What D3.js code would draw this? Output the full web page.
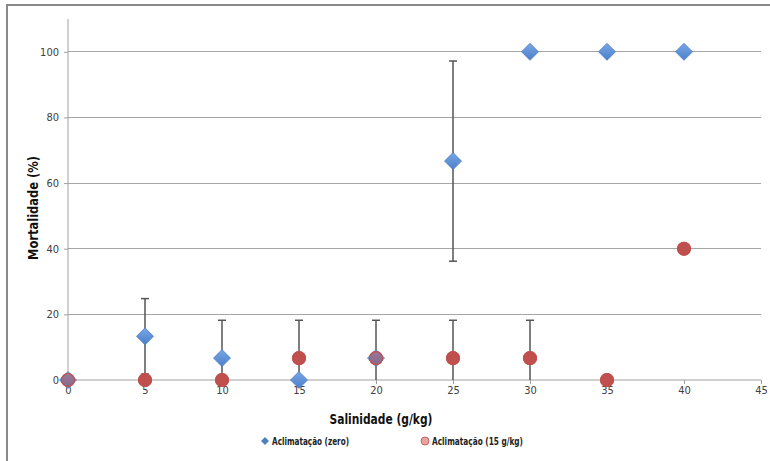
<!DOCTYPE html>
<html><head><meta charset="utf-8">
<script src="https://cdn.jsdelivr.net/npm/d3@7/dist/d3.min.js"></script>
<style>body{margin:0;background:#fff}svg{display:block}</style>
</head><body>
<script>
const salinity = [0, 5, 10, 15, 20, 25, 30, 35, 40];
const mortZero = [0, 13.3, 6.67, 0, 6.67, 66.7, 100, 100, 100];
const mort15 = [0, 0, 0, 6.67, 6.67, 6.67, 6.67, 0, 40];
const errX = [5, 10, 15, 20, 25, 25, 30];
const errLo = [1.8, -4.9, -4.9, -1.8, 36.2, -4.9, -4.9];
const errHi = [24.8, 18.2, 18.2, 18.2, 97.2, 18.2, 18.2];
const xTicks = [0, 5, 10, 15, 20, 25, 30, 35, 40, 45];
const yTicks = [0, 20, 40, 60, 80, 100];
const seriesNames = ["Aclimatação (zero)", "Aclimatação (15 g/kg)"];
const xTitle = "Salinidade (g/kg)";
const yTitle = "Mortalidade (%)";

const W = 770, H = 461;
const font = "'DejaVu Sans Condensed','Liberation Sans Narrow','Liberation Sans',Arial,sans-serif";
const svg = d3.select("body").append("svg").attr("width", W).attr("height", H);

// outer frame
svg.append("rect").attr("x", 7).attr("y", 5).attr("width", 800).attr("height", 500)
  .attr("fill", "none").attr("stroke", "#8a8a8a").attr("stroke-width", 2);

const x = d3.scaleLinear().domain([0, 45]).range([68, 761]);
const y = d3.scaleLinear().domain([0, 110]).range([380, 19]);

const defs = svg.append("defs");
const gB = defs.append("linearGradient").attr("id", "gb").attr("x1", 0).attr("y1", 0).attr("x2", 0).attr("y2", 1);
gB.append("stop").attr("offset", "0%").attr("stop-color", "#7aa7e6");
gB.append("stop").attr("offset", "100%").attr("stop-color", "#4a7fc9");
const clip = defs.append("clipPath").attr("id", "pc");
clip.append("rect").attr("x", 60).attr("y", 10).attr("width", 710).attr("height", 370);

// gridlines
svg.append("g").selectAll("line").data(yTicks.filter(d => d > 0)).join("line")
  .attr("x1", x(0)).attr("x2", x(45)).attr("y1", d => y(d)).attr("y2", d => y(d))
  .attr("stroke", "#a6a6a6").attr("stroke-width", 1).attr("shape-rendering", "crispEdges");

// y axis
const yAxis = svg.append("g").attr("transform", `translate(${x(0)},0)`)
  .call(d3.axisLeft(y).tickValues(yTicks).tickSize(4).tickPadding(5));
yAxis.select(".domain").attr("stroke", "#a0a0a0").attr("d", `M0,${y(110)}V${y(0)}`);
yAxis.selectAll(".tick line").attr("stroke", "#a0a0a0");
yAxis.selectAll("text").attr("font-family", font).attr("font-size", 11).attr("fill", "#404040");

// x axis
const xAxis = svg.append("g").attr("transform", `translate(0,${y(0)})`)
  .call(d3.axisBottom(x).tickValues(xTicks).tickSize(4).tickPadding(2));
xAxis.select(".domain").attr("stroke", "#a0a0a0").attr("d", `M${x(0)},0H${x(45)}`);
xAxis.selectAll(".tick line").attr("stroke", "#a0a0a0");
xAxis.selectAll("text").attr("font-family", font).attr("font-size", 11).attr("fill", "#404040");

// error bars
const eb = svg.append("g").attr("clip-path", "url(#pc)");
errX.forEach((xv, i) => {
  eb.append("line").attr("x1", x(xv)).attr("x2", x(xv)).attr("y1", y(errHi[i])).attr("y2", y(errLo[i]))
    .attr("stroke", "#555").attr("stroke-width", 1.5);
  eb.append("line").attr("x1", x(xv) - 4).attr("x2", x(xv) + 4).attr("y1", y(errHi[i])).attr("y2", y(errHi[i]))
    .attr("stroke", "#555").attr("stroke-width", 1.5);
  if (errLo[i] > 0) eb.append("line").attr("x1", x(xv) - 4).attr("x2", x(xv) + 4).attr("y1", y(errLo[i])).attr("y2", y(errLo[i]))
    .attr("stroke", "#555").attr("stroke-width", 1.5);
});

// red circles
const redData = salinity.map((s, i) => ({ s, v: mort15[i] }));
const blueData = salinity.map((s, i) => ({ s, v: mortZero[i] }));
svg.append("g").selectAll("circle").data(redData).join("circle")
  .attr("cx", d => x(d.s)).attr("cy", d => y(d.v)).attr("r", 6.5)
  .attr("fill", "#c0504d").attr("stroke", "#b4403d").attr("stroke-width", 0.8);

// blue diamonds
const dsz = 8.5;
svg.append("g").selectAll("path").data(blueData).join("path")
  .attr("d", d => `M${x(d.s)},${y(d.v) - dsz}L${x(d.s) + dsz},${y(d.v)}L${x(d.s)},${y(d.v) + dsz}L${x(d.s) - dsz},${y(d.v)}Z`)
  .attr("fill", "url(#gb)").attr("stroke", "#4a7ec4").attr("stroke-width", 0.8);

// translucent red overlay (Excel-like blending where markers overlap)
svg.append("g").selectAll("circle").data(redData).join("circle")
  .attr("cx", d => x(d.s)).attr("cy", d => y(d.v)).attr("r", 6.5)
  .attr("fill", "#c0504d").attr("fill-opacity", 0.5).attr("stroke", "#c0504d").attr("stroke-width", 1.2);

// axis titles
svg.append("text").attr("x", 381).attr("y", 424).attr("text-anchor", "middle")
  .attr("font-family", font).attr("font-weight", "bold").attr("font-size", 14).attr("fill", "#111")
  .attr("textLength", 103).attr("lengthAdjust", "spacingAndGlyphs")
  .text(xTitle);
svg.append("text").attr("transform", "translate(38,208) rotate(-90)").attr("text-anchor", "middle")
  .attr("font-family", font).attr("font-weight", "bold").attr("font-size", 14).attr("fill", "#111")
  .attr("textLength", 104).attr("lengthAdjust", "spacingAndGlyphs")
  .text(yTitle);

// legend
const lg = svg.append("g").attr("font-family", font).attr("font-weight", "bold").attr("font-size", 10.5).attr("fill", "#222");
const ly = 441;
lg.append("path").attr("d", `M265,${ly - 4}L269,${ly}L265,${ly + 4}L261,${ly}Z`).attr("fill", "#4f81bd");
lg.append("text").attr("x", 272).attr("y", ly + 4).attr("textLength", 77).attr("lengthAdjust", "spacingAndGlyphs").text(seriesNames[0]);
lg.append("circle").attr("cx", 425).attr("cy", ly).attr("r", 4).attr("fill", "#e8a3a1").attr("stroke", "#c0504d").attr("stroke-width", 0.8);
lg.append("text").attr("x", 432).attr("y", ly + 4).attr("textLength", 91).attr("lengthAdjust", "spacingAndGlyphs").text(seriesNames[1]);
</script>
</body></html>
